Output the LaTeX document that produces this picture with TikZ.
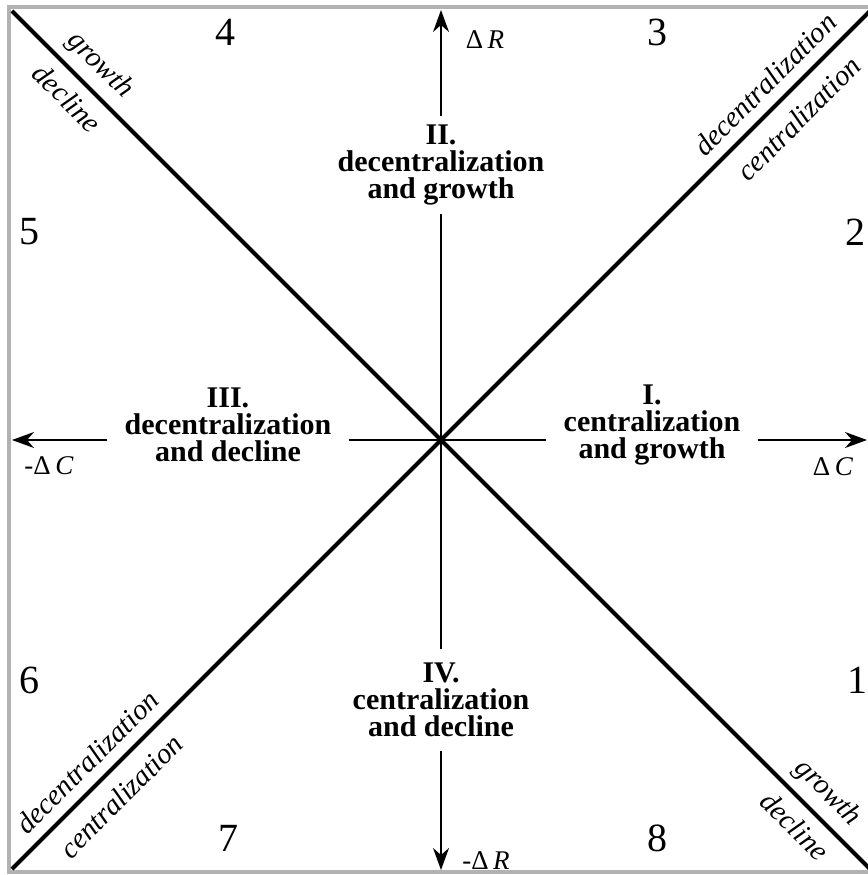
\documentclass[tikz,border=0pt]{standalone}
\usepackage{fontspec}
\setmainfont{Liberation Serif}
\usetikzlibrary{arrows.meta,calc}

\begin{document}
\begin{tikzpicture}[
  x=1pt,y=-1pt,
  frame/.style={draw=black!30,line width=4pt},
  diag/.style={line width=4pt},
  axis/.style={line width=1.3pt},
  axisarrow/.style={axis,-{Stealth[length=22pt,width=16pt,inset=7pt]}},
  quad/.style={font=\fontsize{30}{27}\selectfont\bfseries,align=center,inner xsep=17pt,inner ysep=9pt},
  num/.style={font=\fontsize{40}{40}\selectfont},
  delta/.style={font=\fontsize{27}{27}\selectfont},
  tag/.style={font=\fontsize{29}{29}\selectfont\itshape,sloped}
]
\useasboundingbox (0,0) rectangle (867,875);
\draw[frame] (9,7) rectangle (873,872);

\coordinate (O) at (441,440);
\coordinate (tl) at (12,11);
\coordinate (br) at (870,869);
\coordinate (bl) at (12,869);
\coordinate (tr) at (870,11);
\coordinate (xneg) at (12,440);
\coordinate (xpos) at (867,440);
\coordinate (yup) at (441,10);
\coordinate (ydown) at (441,870);

\draw[diag] (tl) -- (br)
  node[tag,pos=0.083,above=5pt] (gr1) {growth}
  node[tag,pos=0.083,below=7pt] (dl1) {decline}
  node[tag,pos=0.931,above=5pt] (gr2) {growth}
  node[tag,pos=0.931,below=7pt] (dl2) {decline};
\draw[diag] (bl) -- (tr)
  node[tag,pos=0.106,above=7pt] (dc1) {decentralization}
  node[tag,pos=0.106,below=10pt] (cn1) {centralization}
  node[tag,pos=0.896,above=7pt] (dc2) {decentralization}
  node[tag,pos=0.896,below=10pt] (cn2) {centralization};

\node[quad] (q1) at (652,425) {I.\\centralization\\and growth};
\node[quad] (q2) at (441,165) {II.\\decentralization\\and growth};
\node[quad] (q3) at (228,425) {III.\\decentralization\\and decline};
\node[quad,inner ysep=14pt] (q4) at (441,700) {IV.\\centralization\\and decline};

\draw[axisarrow] (q3.west |- O) -- (xneg);
\draw[axis] (q3.east |- O) -- (q1.west |- O);
\draw[axisarrow] (q1.east |- O) -- (xpos);
\draw[axisarrow] (q2.north) -- (yup);
\draw[axis] (q2.south) -- (q4.north);
\draw[axisarrow] (q4.south) -- (ydown);

\node[delta] (dR) at (485,40) {Δ\,\textit{R}};
\node[delta] (mdR) at (486,861) {-Δ\,\textit{R}};
\node[delta] (mdC) at (49,466) {-Δ\,\textit{C}};
\node[delta] (dC) at (833,467) {Δ\,\textit{C}};

\node[num] (n1) at (857,680) {1};
\node[num] (n2) at (855,232) {2};
\node[num] (n3) at (657,32) {3};
\node[num] (n4) at (225,32) {4};
\node[num] (n5) at (29,232) {5};
\node[num] (n6) at (29,680) {6};
\node[num] (n7) at (228,838) {7};
\node[num] (n8) at (657,838) {8};
\end{tikzpicture}
\end{document}
